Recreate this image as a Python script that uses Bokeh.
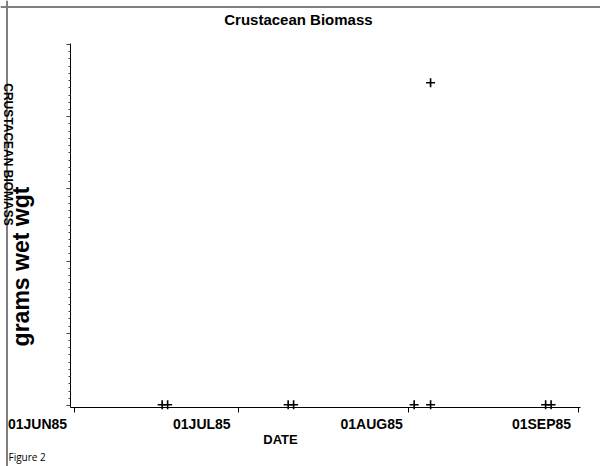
import math
import pandas as pd
from bokeh.plotting import figure
from bokeh.models import (Range1d, FixedTicker, Label, Span, CustomJSTickFormatter)
from bokeh.embed import file_html
from bokeh.resources import INLINE

# ---- data ----
dates = ["1985-06-17", "1985-06-18", "1985-07-10", "1985-07-11",
         "1985-08-02", "1985-08-05", "1985-08-05", "1985-08-26", "1985-08-27"]
biomass = [0.1, 0.1, 0.1, 0.1, 0.1, 0.1, 44.7, 0.1, 0.1]
tick_dates = ["1985-06-01", "1985-07-01", "1985-08-01", "1985-09-01"]
tick_labels = ["01JUN85", "01JUL85", "01AUG85", "01SEP85"]
y_ticks = [0, 10, 20, 30, 40, 50]
y_minor = [v for v in range(0, 51) if v not in y_ticks]

def to_ms(s):
    return [pd.Timestamp(d).value / 1e6 for d in s]

x_ms = to_ms(dates)
tick_ms = to_ms(tick_dates)

# ---- layout (page pixels) ----
W, H = 600, 466
X_FIRST_PX, X_LAST_PX = 74.0, 578.0      # pixel of first / last date tick
Y_LOW_PX, Y_HIGH_PX = 405.0, 44.0        # pixel of lowest / highest y tick
ppx = (X_LAST_PX - X_FIRST_PX) / (tick_ms[-1] - tick_ms[0])
ppy = (Y_LOW_PX - Y_HIGH_PX) / (y_ticks[-1] - y_ticks[0])
x0 = tick_ms[0] - X_FIRST_PX / ppx
x1 = x0 + W / ppx
y_top = y_ticks[-1] + Y_HIGH_PX / ppy
y_bot = y_top - H / ppy

def px2x(px):
    return x0 + px / ppx

def px2y(py):
    return y_top - py / ppy

p = figure(width=W, height=H, x_axis_type="datetime",
           output_backend="svg", toolbar_location=None,
           x_range=Range1d(x0, x1), y_range=Range1d(y_bot, y_top),
           min_border=0, min_border_left=0, min_border_right=0,
           min_border_top=0, min_border_bottom=0)
p.outline_line_color = None
p.xgrid.visible = False
p.ygrid.visible = False
p.title.visible = False

blank = CustomJSTickFormatter(code="return ''")

xa = p.xaxis[0]
xa.fixed_location = px2y(407)
xa.bounds = (px2x(70), px2x(580))
xa.ticker = FixedTicker(ticks=tick_ms, minor_ticks=[])
xa.formatter = blank
xa.major_tick_in = 0
xa.major_tick_out = 5
xa.axis_line_color = "black"
xa.major_tick_line_color = "black"
xa.major_label_text_font_size = "1px"

ya = p.yaxis[0]
ya.fixed_location = px2x(70)
ya.bounds = (px2y(407), px2y(43))
ya.ticker = FixedTicker(ticks=y_ticks, minor_ticks=y_minor)
ya.formatter = blank
ya.major_tick_in = 0
ya.major_tick_out = 4
ya.minor_tick_in = 0
ya.minor_tick_out = 2
ya.axis_line_color = "black"
ya.major_tick_line_color = "#444444"
ya.minor_tick_line_color = "#444444"
ya.major_label_text_font_size = "1px"

# window border (grey)
p.add_layout(Span(location=px2x(6.5), dimension="height",
                  line_color="#808080", line_width=2))
p.add_layout(Span(location=px2y(6.5), dimension="width",
                  line_color="#808080", line_width=2))

p.scatter(x=x_ms, y=biomass, marker="cross", size=9, line_width=1.6,
          line_color="black")

FONT = "Liberation Sans"

for t, lab in zip(tick_ms, tick_labels):
    p.add_layout(Label(x=t, y=px2y(423), x_offset=-37, text=lab,
                       text_align="center", text_baseline="middle",
                       text_font=FONT, text_font_style="bold",
                       text_font_size="14px", text_color="black"))

p.add_layout(Label(x=px2x(300), y=px2y(19), text="Crustacean  Biomass",
                   text_align="center", text_baseline="middle",
                   text_font=FONT, text_font_style="bold",
                   text_font_size="15px", text_color="black"))

p.add_layout(Label(x=px2x(280), y=px2y(439), text="DATE",
                   text_align="center", text_baseline="middle",
                   text_font=FONT, text_font_style="bold",
                   text_font_size="13px", text_color="black"))

p.add_layout(Label(x=px2x(20), y=px2y(266), text="grams wet wgt",
                   angle=math.pi / 2, text_align="center", text_baseline="middle",
                   text_font=FONT, text_font_style="bold",
                   text_font_size="23px", text_color="black"))

p.add_layout(Label(x=px2x(7), y=px2y(154), text="CRUSTACEAN BIOMASS",
                   angle=-math.pi / 2, text_align="center", text_baseline="middle",
                   text_font=FONT, text_font_style="bold",
                   text_font_size="12px", text_color="black"))

p.add_layout(Label(x=px2x(8), y=px2y(456), text="Figure 2",
                   text_align="left", text_baseline="middle",
                   text_font="Open Sans", text_font_size="10px",
                   text_color="black"))

open("out.html", "w").write(file_html(p, INLINE))
